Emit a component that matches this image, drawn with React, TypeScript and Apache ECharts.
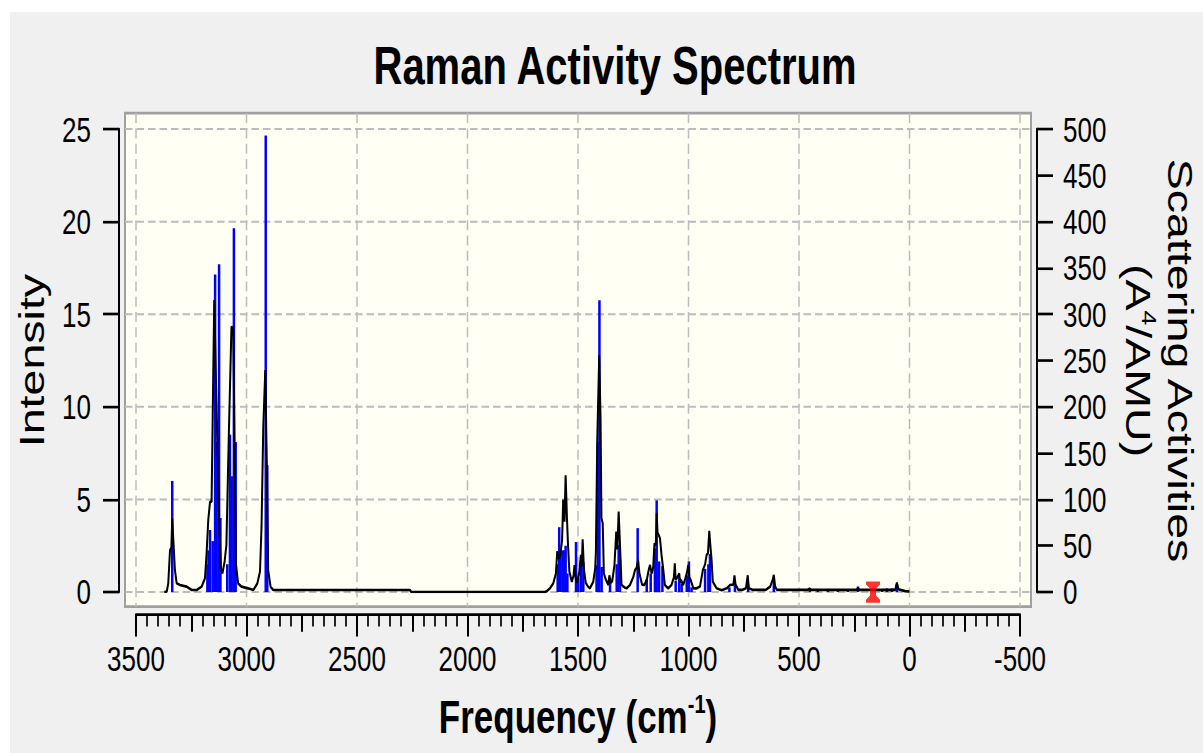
import React, { useEffect, useRef } from 'react';
import * as echarts from 'echarts';

// ---- data -----------------------------------------------------------------

// Broadened Raman curve (cm^-1, intensity), C–H stretching region
const curveCH: [number, number][] = [
  [3372, 0.0], [3361, 0.02], [3354, 0.47], [3346, 2.27], [3340, 2.4], [3336, 3.98],
  [3331, 2.8], [3324, 1.19], [3316, 0.47], [3301, 0.38], [3271, 0.29], [3248, 0.11],
  [3225, 0.11], [3203, 0.29], [3188, 0.74], [3181, 2.0], [3173, 3.89], [3165, 4.88],
  [3158, 4.88], [3153, 9.47], [3146, 15.77], [3140, 12.44], [3132, 8.12], [3125, 4.25],
  [3116, 1.28], [3109, 1.0], [3099, 1.64], [3091, 2.54], [3080, 8.48], [3068, 14.33],
  [3060, 14.24], [3054, 8.12], [3048, 1.55], [3038, 0.47], [3023, 0.29], [2993, 0.2],
  [2969, 0.11], [2951, 0.47], [2939, 1.1], [2932, 3.53], [2924, 8.93], [2915, 11.99],
  [2908, 6.86], [2902, 1.19], [2891, 0.29], [2879, 0.11], [2261, 0.11], [2254, 0.0],
];

// Broadened Raman curve, fingerprint and low-frequency region
const curveFingerprint: [number, number][] = [
  [1650, 0.0], [1642, 0.04], [1627, 0.2], [1612, 0.47], [1600, 1.0], [1594, 2.2],
  [1588, 1.8], [1580, 2.0], [1572, 2.8], [1567, 5.0], [1561, 3.8], [1556, 6.3],
  [1550, 4.0], [1545, 2.5], [1539, 1.1], [1528, 0.55], [1520, 0.9], [1516, 1.45],
  [1511, 0.8], [1505, 0.5], [1495, 1.0], [1487, 2.0], [1483, 1.4], [1479, 2.85],
  [1473, 1.2], [1465, 0.5], [1455, 0.3], [1446, 0.2], [1431, 0.56], [1422, 1.3],
  [1419, 2.2], [1413, 8.1], [1404, 12.8], [1398, 9.4], [1394, 4.0], [1388, 3.7],
  [1383, 1.0], [1375, 0.7], [1363, 0.38], [1358, 0.9], [1352, 0.5], [1345, 0.6],
  [1335, 1.46], [1327, 3.26], [1322, 2.3], [1316, 4.34], [1310, 2.54], [1303, 0.38],
  [1290, 0.25], [1280, 0.2], [1265, 0.38], [1250, 0.8], [1242, 1.19], [1235, 1.3],
  [1228, 1.73], [1222, 1.0], [1210, 0.4], [1200, 0.38], [1189, 0.65], [1180, 1.2],
  [1174, 1.46], [1167, 1.0], [1160, 1.3], [1154, 2.63], [1148, 2.5], [1144, 4.25],
  [1140, 3.2], [1135, 3.08], [1129, 2.9], [1122, 2.0], [1114, 1.19], [1107, 0.38],
  [1092, 0.2], [1077, 0.38], [1066, 0.8], [1062, 1.55], [1058, 0.65], [1050, 0.8],
  [1042, 1.0], [1038, 0.5], [1034, 0.65], [1024, 0.38], [1015, 0.7], [1008, 1.0],
  [1001, 1.46], [996, 0.8], [990, 0.65], [978, 0.2], [963, 0.2], [948, 0.3],
  [935, 1.19], [925, 1.5], [918, 2.0], [912, 2.09], [906, 3.3], [901, 2.5],
  [896, 1.8], [890, 0.56], [873, 0.2], [850, 0.1], [827, 0.2], [812, 0.38],
  [797, 0.4], [792, 0.9], [787, 0.4], [775, 0.12], [755, 0.12], [740, 0.2],
  [732, 0.9], [727, 0.2], [710, 0.12], [650, 0.12], [630, 0.3], [618, 0.7],
  [614, 0.92], [608, 0.3], [600, 0.12], [460, 0.12], [452, 0.18], [445, 0.12],
  [240, 0.12], [233, 0.2], [226, 0.12], [65, 0.12], [57, 0.5], [50, 0.15],
  [20, 0.05], [0, 0.03],
];

// Normal modes (cm^-1, scattering activity A^4/AMU), C–H stretches
const sticksCH: [number, number][] = [
  [3336, 120], [3177, 30], [3172, 45], [3165, 67], [3153, 55], [3142, 343],
  [3135, 162], [3124, 354], [3118, 80], [3087, 30], [3075, 170], [3067, 125],
  [3057, 393], [3049, 162], [2913, 493], [2906, 137],
];

// Normal modes, fingerprint region
const sticksFingerprint: [number, number][] = [
  [1592, 30], [1585, 70], [1579, 45], [1570, 45], [1562, 45], [1556, 50],
  [1548, 20], [1509, 54], [1499, 15], [1487, 32], [1476, 32], [1416, 29],
  [1410, 162], [1403, 315], [1393, 27], [1355, 15], [1325, 30], [1316, 51],
  [1310, 35], [1230, 69], [1189, 14], [1171, 20], [1152, 47], [1144, 99],
  [1133, 33], [1118, 28], [1058, 12], [1042, 15], [1031, 9], [1008, 18],
  [998, 33], [986, 5], [925, 25], [910, 30], [903, 41], [815, 5],
  [790, 8], [730, 8], [614, 12],
];

// Normal modes, low-frequency region
const sticksLow: [number, number][] = [
  [451, 3], [415, 3], [369, 3], [324, 3], [279, 3], [233, 6],
  [124, 3], [102, 4], [79, 4], [57, 8],
];

// Currently selected mode (cm^-1)
const selectedMode: [number, number][] = [[165, 0]];

// Axis ticks
const freqTicks = [3500, 3000, 2500, 2000, 1500, 1000, 500, 0, -500];
const intensityTicks = [0, 5, 10, 15, 20, 25];

// ---- layout / style -------------------------------------------------------

const FONT = "'Liberation Sans', Arial, Helvetica, sans-serif";
const CHART_W = 1193;
const CHART_H = 557;
const STRETCH = 741 / CHART_H; // the whole plot is drawn vertically stretched
const GRID = { left: 126, right: 183, top: 88, bottom: 121 };
const FRAME_PAD = { left: 11, right: 11, top: 12, bottom: 11 };
const GRID_LINE = { stroke: '#bcbcbc', lineWidth: 1.5, lineDash: [7.5, 4] };

const IBEAM = 'path://M0,0H14V3L10,7V14L14,18V21H0V18L4,14V7L0,3Z';

const plainNumber = (v: number) => String(v);

export default function App() {
  const ref = useRef<HTMLDivElement>(null);

  useEffect(() => {
    if (!ref.current) return;
    const chart = echarts.init(ref.current, null, { renderer: 'svg' });

    const frameX = GRID.left - FRAME_PAD.left;
    const frameY = GRID.top - FRAME_PAD.top;
    const frameW = CHART_W - GRID.left - GRID.right + FRAME_PAD.left + FRAME_PAD.right;
    const frameH = CHART_H - GRID.top - GRID.bottom + FRAME_PAD.top + FRAME_PAD.bottom;

    const axisBlack = { color: '#000', width: 2 };
    const supStyle = { fontSize: 20, lineHeight: 20, verticalAlign: 'top', color: '#000', fontFamily: FONT };

    const option: any = {
      animation: false,
      backgroundColor: '#f0f0f0',
      textStyle: { fontFamily: FONT },
      title: {
        text: 'Raman Activity Spectrum',
        left: 600,
        top: 15,
        textAlign: 'center',
        textStyle: { fontSize: 40, fontWeight: 'bold', color: '#000', fontFamily: FONT },
      },
      graphic: [
        {
          type: 'rect',
          z: -1,
          silent: true,
          shape: { x: frameX, y: frameY, width: frameW, height: frameH },
          style: { fill: '#fffff4', stroke: '#a0a0a0', lineWidth: 2 },
        },
      ],
      grid: { ...GRID, containLabel: false, outerBoundsMode: 'none' },
      xAxis: [
        {
          type: 'value',
          min: -500,
          max: 3500,
          interval: 500,
          inverse: true,
          position: 'bottom',
          offset: 17,
          axisLine: { show: true, onZero: false, lineStyle: axisBlack },
          axisTick: { show: true, length: 16.5, lineStyle: axisBlack },
          minorTick: { show: true, splitNumber: 10, length: 9, lineStyle: { color: '#000', width: 1.7 } },
          axisLabel: { color: '#000', fontSize: 26, margin: 20, fontFamily: FONT, formatter: plainNumber },
          splitLine: { show: false },
          minorSplitLine: { show: false },
          name: 'Frequency (cm{sup|-1})',
          nameLocation: 'middle',
          nameGap: 57,
          nameTextStyle: {
            color: '#000',
            fontSize: 35,
            fontWeight: 'bold',
            lineHeight: 40,
            fontFamily: FONT,
            rich: { sup: { ...supStyle, fontWeight: 'bold' } },
          },
        },
        {
          type: 'value',
          min: -500,
          max: 3500,
          interval: 250,
          inverse: true,
          position: 'bottom',
          offset: 17,
          axisLine: { show: false, onZero: false },
          axisTick: { show: true, length: 12.8, lineStyle: axisBlack },
          axisLabel: { show: false },
          splitLine: { show: false },
        },
      ],
      yAxis: [
        {
          type: 'value',
          min: 0,
          max: 25,
          interval: 5,
          position: 'left',
          offset: 17,
          axisLine: { show: true, onZero: false, lineStyle: axisBlack },
          axisTick: { show: true, length: 16, lineStyle: axisBlack },
          axisLabel: { color: '#000', fontSize: 26, margin: 28, fontFamily: FONT, formatter: plainNumber },
          splitLine: { show: false },
          name: 'Intensity',
          nameLocation: 'middle',
          nameRotate: 90,
          nameGap: 69,
          nameTextStyle: { color: '#000', fontSize: 35, fontFamily: FONT },
        },
        {
          type: 'value',
          min: 0,
          max: 500,
          interval: 50,
          position: 'right',
          offset: 17,
          axisLine: { show: true, onZero: false, lineStyle: axisBlack },
          axisTick: { show: true, length: 16, lineStyle: axisBlack },
          axisLabel: { color: '#000', fontSize: 26, margin: 26, fontFamily: FONT, formatter: plainNumber },
          splitLine: { show: false },
          name: 'Scattering Activities\n(A{sup|4}/AMU)',
          nameLocation: 'middle',
          nameRotate: -90,
          nameGap: 79,
          nameTextStyle: {
            color: '#000',
            fontSize: 35,
            lineHeight: 42,
            fontFamily: FONT,
            rich: { sup: supStyle },
          },
        },
      ],
      series: [
        {
          // dashed vertical grid lines spanning the whole plot frame
          type: 'custom',
          xAxisIndex: 0,
          yAxisIndex: 0,
          silent: true,
          z: 1,
          data: freqTicks.map((f) => [f, 0]),
          encode: { x: 0, y: 1 },
          renderItem: (params: any, api: any) => {
            const cs = params.coordSys;
            const x = api.coord([api.value(0), 0])[0];
            return {
              type: 'line',
              shape: { x1: x, y1: cs.y - FRAME_PAD.top, x2: x, y2: cs.y + cs.height + FRAME_PAD.bottom },
              style: { ...GRID_LINE, fill: null },
            };
          },
        },
        {
          // dashed horizontal grid lines spanning the whole plot frame
          type: 'custom',
          xAxisIndex: 0,
          yAxisIndex: 0,
          silent: true,
          z: 1,
          data: intensityTicks.map((v) => [0, v]),
          encode: { x: 0, y: 1 },
          renderItem: (params: any, api: any) => {
            const cs = params.coordSys;
            const y = api.coord([0, api.value(1)])[1];
            return {
              type: 'line',
              shape: { x1: cs.x - FRAME_PAD.left, y1: y, x2: cs.x + cs.width + FRAME_PAD.right, y2: y },
              style: { ...GRID_LINE, fill: null },
            };
          },
        },
        {
          // stick spectrum of the normal modes
          type: 'custom',
          name: 'Activity',
          xAxisIndex: 0,
          yAxisIndex: 1,
          silent: true,
          z: 3,
          data: [...sticksCH, ...sticksFingerprint, ...sticksLow],
          encode: { x: 0, y: 1 },
          renderItem: (_params: any, api: any) => {
            const f = api.value(0);
            const p0 = api.coord([f, 0]);
            const p1 = api.coord([f, api.value(1)]);
            return {
              type: 'line',
              shape: { x1: p0[0], y1: p0[1], x2: p1[0], y2: p1[1] },
              style: { stroke: '#0000ff', lineWidth: 2.5, fill: null },
            };
          },
        },
        {
          type: 'line',
          name: 'Intensity',
          xAxisIndex: 0,
          yAxisIndex: 0,
          z: 4,
          silent: true,
          showSymbol: false,
          symbol: 'none',
          data: [...curveCH, ...curveFingerprint],
          lineStyle: { color: '#000', width: 2 },
        },
        {
          type: 'scatter',
          xAxisIndex: 0,
          yAxisIndex: 0,
          z: 6,
          silent: true,
          symbol: IBEAM,
          symbolSize: [14, 16],
          data: selectedMode,
          itemStyle: { color: '#ff0000' },
        },
      ],
    };

    chart.setOption(option);
    return () => chart.dispose();
  }, []);

  return (
    <div style={{ position: 'absolute', left: 0, top: 0, width: 1203, height: 753, background: '#fff', overflow: 'hidden' }}>
      <div style={{ position: 'absolute', left: 10, top: 12, width: CHART_W, height: 741, background: '#f0f0f0' }}>
        <div
          ref={ref}
          style={{
            width: CHART_W,
            height: CHART_H,
            transform: `scaleY(${STRETCH})`,
            transformOrigin: '0 0',
          }}
        />
      </div>
    </div>
  );
}
